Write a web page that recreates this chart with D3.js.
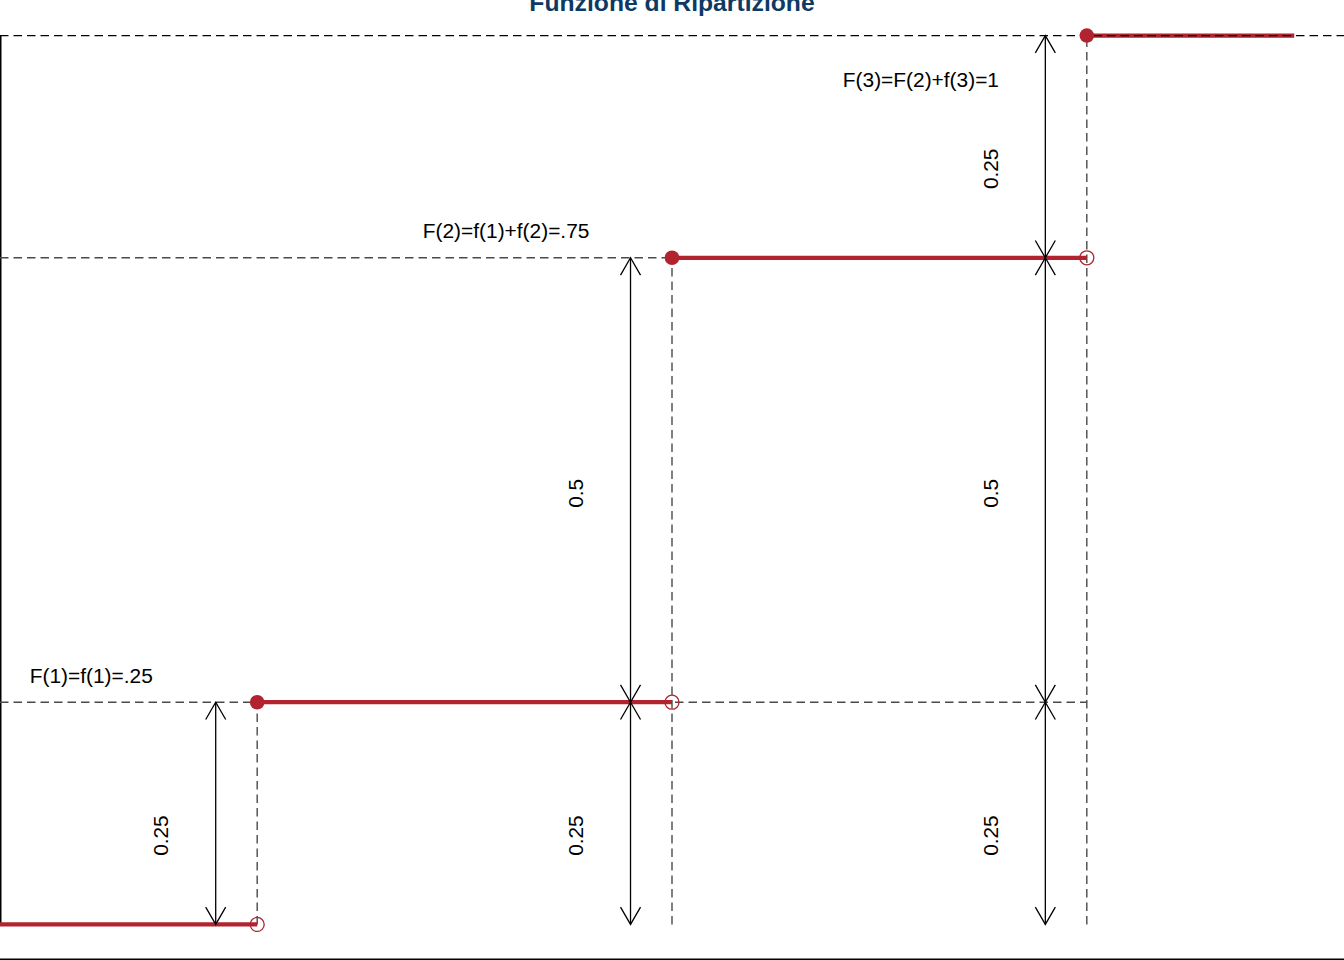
<!DOCTYPE html>
<html>
<head>
<meta charset="utf-8">
<script src="https://cdn.jsdelivr.net/npm/d3@7"></script>
<style>
  html, body { margin: 0; padding: 0; background: #fff; }
  svg { display: block; }
  text { font-family: "Liberation Sans", Arial, Helvetica, sans-serif; }
</style>
</head>
<body>
<svg id="chart" width="1344" height="960"></svg>
<script>
// ---- data ----
const jumpX = [1, 2, 3];                 // support points
const cdfValues = [0.25, 0.75, 1];       // F(x) at each support point
const probs = [0.25, 0.5, 0.25];         // f(x)
const lastX = 3.5;                        // end of last step
const xDomain = [0.38, 3.62];
const yDomain = [-0.04, 1.04];
const cdfLabels = ["F(1)=f(1)=.25", "F(2)=f(1)+f(2)=.75", "F(3)=F(2)+f(3)=1"];
const cdfLabelY = [0.28, 0.78, 0.95];
const probLabels = ["0.25", "0.5", "0.25"];
const probLabelY = [0.1, 0.485, 0.85];
const title = "Funzione di Ripartizione";

// ---- setup ----
const W = 1344, H = 960;
const svg = d3.select("#chart");
const x = d3.scaleLinear().domain(xDomain).range([0, W]);
const y = d3.scaleLinear().domain(yDomain).range([H, 0]);
const red = "#b0232f";
const gray = "#4a4a4a";
const dash = "8.5,5";

// frame pieces
svg.append("line").attr("x1", 0).attr("x2", W).attr("y1", H - 0.75).attr("y2", H - 0.75)
  .attr("stroke", "#000").attr("stroke-width", 1.5);
svg.append("line").attr("x1", x(xDomain[0]) + 0.75).attr("x2", x(xDomain[0]) + 0.75)
  .attr("y1", y(1)).attr("y2", y(0)).attr("stroke", "#000").attr("stroke-width", 1.5);

// gray dashed guides
const prevF = [0].concat(cdfValues.slice(0, -1));
jumpX.forEach((jx, i) => {
  svg.append("line").attr("x1", x(jx)).attr("x2", x(jx))
    .attr("y1", y(0)).attr("y2", y(cdfValues[i]))
    .attr("stroke", gray).attr("stroke-width", 1.4).attr("stroke-dasharray", dash);
  if (i < jumpX.length - 1) {
    svg.append("line").attr("x1", x(xDomain[0])).attr("x2", x(jumpX[jumpX.length - 1]))
      .attr("y1", y(cdfValues[i])).attr("y2", y(cdfValues[i]))
      .attr("stroke", gray).attr("stroke-width", 1.4).attr("stroke-dasharray", dash);
  }
});

// step segments
const steps = [];
steps.push({ x0: xDomain[0], x1: jumpX[0], v: 0 });
jumpX.forEach((jx, i) => {
  steps.push({ x0: jx, x1: i < jumpX.length - 1 ? jumpX[i + 1] : lastX, v: cdfValues[i] });
});
svg.selectAll(".step").data(steps).enter().append("line")
  .attr("x1", d => x(d.x0)).attr("x2", d => x(d.x1))
  .attr("y1", d => y(d.v)).attr("y2", d => y(d.v))
  .attr("stroke", red).attr("stroke-width", 4.3);

// top black dashed line at F=1
svg.append("line").attr("x1", 0).attr("x2", W)
  .attr("y1", y(1)).attr("y2", y(1))
  .attr("stroke", "#000").attr("stroke-width", 1.3).attr("stroke-dasharray", dash);

// open circles (left limits) and filled dots
svg.selectAll(".open").data(jumpX).enter().append("circle")
  .attr("cx", d => x(d)).attr("cy", (d, i) => y(prevF[i])).attr("r", 7)
  .attr("fill", "none").attr("stroke", red).attr("stroke-width", 1.3);
svg.selectAll(".dot").data(jumpX).enter().append("circle")
  .attr("cx", d => x(d)).attr("cy", (d, i) => y(cdfValues[i])).attr("r", 7.3)
  .attr("fill", red);

// arrows
function arrowHead(px, py, dir) {
  const L = 20, a = Math.PI / 6;
  const dx = L * Math.sin(a), dy = L * Math.cos(a);
  return `M${px - dx},${py - dir * dy}L${px},${py}L${px + dx},${py - dir * dy}`;
}
const arrowG = svg.append("g").attr("stroke", "#000").attr("stroke-width", 1.3).attr("fill", "none");
jumpX.forEach((jx, col) => {
  const ax = x(jx - 0.1);
  for (let k = 0; k <= col; k++) {
    const lo = k === 0 ? 0 : cdfValues[k - 1];
    const hi = cdfValues[k];
    const y0 = y(lo), y1 = y(hi);
    arrowG.append("line").attr("x1", ax).attr("x2", ax).attr("y1", y0).attr("y2", y1);
    arrowG.append("path").attr("d", arrowHead(ax, y0, 1));
    arrowG.append("path").attr("d", arrowHead(ax, y1, -1));
    svg.append("text")
      .attr("transform", `translate(${x(jx - 0.2) - 6},${y(probLabelY[k])}) rotate(-90)`)
      .attr("text-anchor", "middle")
      .attr("font-size", "20.8px").attr("fill", "#000")
      .text(probLabels[k]);
  }
});

// F labels
svg.selectAll(".flab").data(cdfLabels).enter().append("text")
  .attr("x", (d, i) => x(jumpX[i] - 0.4))
  .attr("y", (d, i) => y(cdfLabelY[i]))
  .attr("dy", "0.35em")
  .attr("text-anchor", "middle")
  .attr("font-size", "20.9px").attr("fill", "#000")
  .text(d => d);

// title
svg.append("text").attr("x", W / 2).attr("y", 11)
  .attr("text-anchor", "middle").attr("font-weight", "bold")
  .attr("font-size", "24.7px").attr("fill", "#0d3a63")
  .text(title);
</script>
</body>
</html>
